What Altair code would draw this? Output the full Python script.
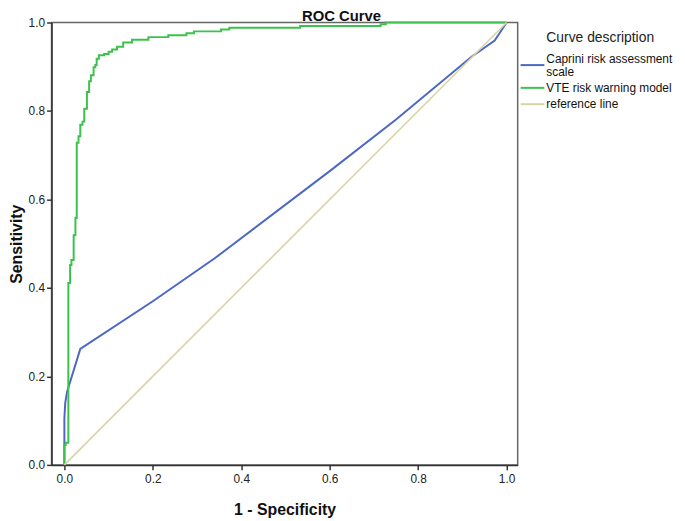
import altair as alt
import pandas as pd

series_names = ["Caprini risk assessment scale", "VTE risk warning model", "reference line"]
series_colors = ["#4c68c3", "#3cc24c", "#d8d4a2"]
legend_lines = [["Caprini risk assessment", "scale"], ["VTE risk warning model"], ["reference line"]]

caprini_fpr = [0.0, 0.0, 0.002, 0.006, 0.036, 0.20, 0.34, 0.60, 0.75, 0.92, 0.973, 1.0]
caprini_tpr = [0.0, 0.105, 0.14, 0.165, 0.262, 0.37, 0.467, 0.664, 0.781, 0.922, 0.959, 1.0]

vte_fpr = [0.0, 0.0, 0.003, 0.009, 0.013, 0.016, 0.021, 0.025, 0.028, 0.032, 0.036,
           0.041, 0.045, 0.051, 0.056, 0.060, 0.066, 0.070, 0.073, 0.078, 0.090,
           0.100, 0.108, 0.119, 0.133, 0.153, 0.190, 0.235, 0.276, 0.293, 0.354,
           0.373, 0.533, 0.715, 0.727, 1.0]
vte_tpr = [0.0, 0.045, 0.05, 0.411, 0.452, 0.463, 0.519, 0.558, 0.728, 0.743, 0.769,
           0.776, 0.805, 0.843, 0.867, 0.881, 0.899, 0.904, 0.918, 0.926, 0.929,
           0.934, 0.939, 0.945, 0.955, 0.961, 0.967, 0.971, 0.976, 0.980, 0.984,
           0.988, 0.992, 0.996, 1.0, 1.0]

ref_fpr = [0.0, 1.0]
ref_tpr = [0.0, 1.0]

x_ticks = [0.0, 0.2, 0.4, 0.6, 0.8, 1.0]
y_ticks = [0.0, 0.2, 0.4, 0.6, 0.8, 1.0]

chart_title = "ROC Curve"
x_title = "1 - Specificity"
y_title = "Sensitivity"
legend_title = "Curve description"

FONT = "Liberation Sans"


def frame(name, xs, ys):
    return pd.DataFrame({"fpr": xs, "tpr": ys, "series": name, "i": list(range(len(xs)))})


df_cap = frame(series_names[0], caprini_fpr, caprini_tpr)
df_vte = frame(series_names[1], vte_fpr, vte_tpr)
df_ref = frame(series_names[2], ref_fpr, ref_tpr)

x_enc = alt.X("fpr:Q", title=x_title,
              scale=alt.Scale(domain=[-0.029, 1.025], nice=False, zero=False),
              axis=alt.Axis(values=x_ticks, format=".1f", grid=False, tickSize=5,
                            labelPadding=4, titlePadding=17))
y_enc = alt.Y("tpr:Q", title=y_title,
              scale=alt.Scale(domain=[0, 1], nice=False, zero=False),
              axis=alt.Axis(values=y_ticks, format=".1f", grid=False, tickSize=5,
                            labelPadding=2, titlePadding=4))

color_enc = alt.Color("series:N",
                      scale=alt.Scale(domain=series_names, range=series_colors),
                      legend=None)

cap = alt.Chart(df_cap).mark_line(strokeWidth=2).encode(
    x=x_enc, y=y_enc, color=color_enc, order="i:Q")
vte = alt.Chart(df_vte).mark_line(strokeWidth=2, interpolate="step-after").encode(
    x=x_enc, y=y_enc, color=color_enc, order="i:Q")
ref = alt.Chart(df_ref).mark_line(strokeWidth=1.6).encode(
    x=x_enc, y=y_enc, color=color_enc, order="i:Q")

title_mark = alt.Chart(pd.DataFrame({"t": [chart_title]})).mark_text(
    align="center", baseline="alphabetic", fontSize=15, fontWeight="bold",
    font=FONT, color="#111"
).encode(text="t:N", x=alt.value(293), y=alt.value(-1.5))

leg_layers = [
    alt.Chart(pd.DataFrame({"t": [legend_title]})).mark_text(
        align="left", baseline="middle", fontSize=14, font=FONT, color="#222"
    ).encode(text="t:N", x=alt.value(500), y=alt.value(16))
]

# legend layout (pixel positions in view coordinates)
sym_y = [43, 66, 82.5]
line_y = [[37, 50], [66], [82.5]]
for name, col, sy, lines, ly in zip(series_names, series_colors, sym_y, legend_lines, line_y):
    leg_layers.append(
        alt.Chart(pd.DataFrame({"s": [name]})).mark_rule(color=col, strokeWidth=2).encode(
            x=alt.value(474), x2=alt.value(498), y=alt.value(sy))
    )
    for txt, yy in zip(lines, ly):
        leg_layers.append(
            alt.Chart(pd.DataFrame({"t": [txt]})).mark_text(
                align="left", baseline="middle", fontSize=12, font=FONT, color="#111"
            ).encode(text="t:N", x=alt.value(500), y=alt.value(yy))
        )

chart = alt.layer(cap, vte, ref, title_mark, *leg_layers).properties(
    width=471, height=447,
    autosize=alt.AutoSizeParams(type="none"),
    padding={"left": 44, "top": 12, "right": 161, "bottom": 53},
).configure_view(
    stroke="#666", strokeWidth=1.5
).configure_axis(
    domainColor="#333", domainWidth=1.5, tickColor="#333", tickWidth=1.5,
    labelFont=FONT, labelFontSize=12, labelColor="#222",
    titleFont=FONT, titleFontSize=16, titleFontWeight="bold", titleColor="#111"
)

chart.save("out.html", embed_options={"renderer": "svg", "actions": False})
